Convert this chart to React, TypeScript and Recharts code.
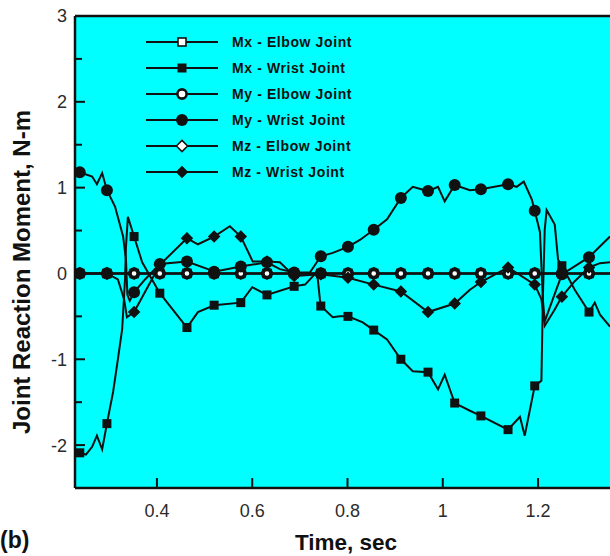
import React from "react";
import {
    CartesianGrid,
    Label,
    Legend,
    Line,
    LineChart,
    ReferenceLine,
    XAxis,
    YAxis,
} from "recharts";

// [time, value, marker?]
type Pt = [number, number, number];

const X_TICKS = [0.4, 0.6, 0.8, 1, 1.2];
const Y_TICKS = [-2.5, -2, -1.5, -1, -0.5, 0, 0.5, 1, 1.5, 2, 2.5, 3];

const SERIES_NAMES = [
    "Mx - Elbow Joint",
    "Mx - Wrist Joint",
    "My - Elbow Joint",
    "My - Wrist Joint",
    "Mz - Elbow Joint",
    "Mz - Wrist Joint",
];

// times where the elbow markers sit (the elbow moments stay on zero)
const MARKER_TIMES = [
    0.238, 0.295, 0.352, 0.406, 0.463, 0.52, 0.576, 0.631, 0.688, 0.744,
    0.801, 0.855, 0.912, 0.969, 1.025, 1.08, 1.137, 1.193, 1.25, 1.307,
];

const mxWrist: Pt[] = [
    [0.228, -2.09, 0], [0.238, -2.09, 1], [0.251, -2.11, 0], [0.264, -2.02, 0],
    [0.274, -1.89, 0], [0.285, -2.05, 0], [0.295, -1.75, 1], [0.308, -1.38, 0],
    [0.318, -1.0, 0], [0.327, -0.65, 0], [0.333, -0.07, 0], [0.335, 0.31, 0],
    [0.339, 0.66, 0], [0.352, 0.43, 1], [0.369, 0.13, 0], [0.406, -0.23, 1],
    [0.463, -0.63, 1], [0.486, -0.45, 0], [0.52, -0.37, 1], [0.576, -0.34, 1],
    [0.6, -0.16, 0], [0.631, -0.25, 1], [0.688, -0.15, 1], [0.711, -0.13, 0],
    [0.736, 0.02, 0], [0.742, -0.3, 0], [0.744, -0.38, 1], [0.769, -0.51, 0],
    [0.784, -0.5, 0], [0.801, -0.5, 1], [0.832, -0.57, 0], [0.855, -0.66, 1],
    [0.883, -0.77, 0], [0.912, -1.0, 1], [0.937, -1.14, 0], [0.969, -1.15, 1],
    [0.99, -1.35, 0], [1.004, -1.18, 0], [1.025, -1.51, 1], [1.057, -1.6, 0],
    [1.08, -1.66, 1], [1.137, -1.82, 1], [1.162, -1.67, 0], [1.172, -1.89, 0],
    [1.193, -1.31, 1], [1.207, -1.25, 0], [1.21, -0.3, 0], [1.214, 0.51, 0],
    [1.218, 0.74, 0], [1.235, 0.57, 0], [1.242, 0.16, 0], [1.25, 0.09, 1],
    [1.277, -0.19, 0], [1.307, -0.45, 1], [1.319, -0.34, 0], [1.33, -0.48, 0],
    [1.351, -0.62, 0],
];

const myWrist: Pt[] = [
    [0.228, 1.18, 0], [0.238, 1.18, 1], [0.264, 1.13, 0], [0.274, 1.04, 0],
    [0.285, 1.17, 0], [0.295, 0.97, 1], [0.312, 0.78, 0], [0.329, 0.43, 0],
    [0.335, 0.16, 0], [0.338, -0.25, 0], [0.343, -0.32, 0], [0.352, -0.22, 1],
    [0.375, -0.07, 0], [0.406, 0.11, 1], [0.463, 0.14, 1], [0.507, 0.05, 0],
    [0.52, 0.02, 1], [0.576, 0.08, 1], [0.631, 0.13, 1], [0.658, 0.05, 0],
    [0.688, 0.01, 1], [0.721, 0.01, 0], [0.744, 0.2, 1], [0.769, 0.24, 0],
    [0.801, 0.31, 1], [0.826, 0.39, 0], [0.855, 0.51, 1], [0.883, 0.63, 0],
    [0.912, 0.88, 1], [0.937, 1.01, 0], [0.969, 0.96, 1], [0.99, 1.01, 0],
    [1.004, 0.84, 0], [1.025, 1.03, 1], [1.057, 0.97, 0], [1.08, 0.98, 1],
    [1.137, 1.04, 1], [1.155, 1.01, 0], [1.17, 1.07, 0], [1.187, 0.86, 0],
    [1.193, 0.73, 1], [1.204, 0.48, 0], [1.21, -0.3, 0], [1.214, -0.56, 0],
    [1.225, -0.39, 0], [1.25, -0.01, 1], [1.307, 0.19, 1], [1.351, 0.43, 0],
];

const mzWrist: Pt[] = [
    [0.228, 0.0, 0], [0.238, 0.0, 1], [0.295, 0.0, 1], [0.318, -0.07, 0],
    [0.331, -0.3, 0], [0.337, -0.51, 0], [0.352, -0.45, 1], [0.406, 0.1, 1],
    [0.463, 0.41, 1], [0.486, 0.34, 0], [0.52, 0.43, 1], [0.553, 0.55, 0],
    [0.576, 0.43, 1], [0.601, 0.14, 0], [0.631, 0.14, 1], [0.658, 0.13, 0],
    [0.688, -0.03, 1], [0.744, -0.01, 1], [0.801, -0.05, 1], [0.855, -0.13, 1],
    [0.912, -0.21, 1], [0.969, -0.45, 1], [1.025, -0.35, 1], [1.057, -0.19, 0],
    [1.08, -0.1, 1], [1.137, 0.07, 1], [1.193, -0.13, 1], [1.207, -0.3, 0],
    [1.214, -0.61, 0], [1.235, -0.42, 0], [1.25, -0.27, 1], [1.277, -0.09, 0],
    [1.307, 0.07, 1], [1.33, 0.12, 0], [1.351, 0.13, 0],
];

const X_MIN = 0.228;
const X_MAX = 1.351;

const FONT = '"Liberation Sans", Arial, Helvetica, sans-serif';
const INK = "#111";
const BG = "#00FFFF";

const toRows = (pts: Pt[]) => pts.map(([t, v, m]) => ({ t, v, m }));

const elbowRows = [
    { t: X_MIN, v: 0, m: 0 },
    ...MARKER_TIMES.map((t) => ({ t, v: 0, m: 1 })),
    { t: X_MAX, v: 0, m: 0 },
];

type Shape = "square" | "circle" | "diamond";

function marker(shape: Shape, filled: boolean, cx: number, cy: number, inLegend = false) {
    const fill = filled ? INK : "#fff";
    if (shape === "square") {
        const h = filled ? 3.7 : 4;
        return (
            <rect
                x={cx - h}
                y={cy - h}
                width={h * 2}
                height={h * 2}
                fill={fill}
                stroke={INK}
                strokeWidth={1.6}
            />
        );
    }
    if (shape === "circle") {
        if (filled) return <circle cx={cx} cy={cy} r={6} fill={INK} />;
        return inLegend ? (
            <circle cx={cx} cy={cy} r={4.6} fill="#fff" stroke={INK} strokeWidth={2.6} />
        ) : (
            <circle cx={cx} cy={cy} r={4.2} fill="#fff" stroke={INK} strokeWidth={3.8} />
        );
    }
    const h = filled ? 5.2 : 5.6;
    return (
        <polygon
            points={`${cx},${cy - h} ${cx + h},${cy} ${cx},${cy + h} ${cx - h},${cy}`}
            fill={fill}
            stroke={INK}
            strokeWidth={1.5}
        />
    );
}

const SHAPES: { shape: Shape; filled: boolean }[] = [
    { shape: "square", filled: false },
    { shape: "square", filled: true },
    { shape: "circle", filled: false },
    { shape: "circle", filled: true },
    { shape: "diamond", filled: false },
    { shape: "diamond", filled: true },
];

const dotFor = (i: number) => (props: any) => {
    const { cx, cy, payload, index } = props;
    if (!payload || !payload.m || cx == null || cy == null) {
        return <g key={`d-${i}-${index}`} />;
    }
    return <g key={`d-${i}-${index}`}>{marker(SHAPES[i].shape, SHAPES[i].filled, cx, cy)}</g>;
};

function XTick(props: any) {
    const { x, y, payload } = props;
    return (
        <g>
            <line x1={x} y1={y} x2={x} y2={y - 10} stroke={INK} strokeWidth={2} />
            <text
                x={x}
                y={y + 29}
                textAnchor="middle"
                fontSize={18}
                fontFamily={FONT}
                fill="#2b2b2b"
            >
                {payload.value}
            </text>
        </g>
    );
}

function YTick(props: any) {
    const { x, y, payload } = props;
    const major = Number.isInteger(payload.value);
    return (
        <g>
            <line x1={x} y1={y} x2={x + (major ? 10 : 7)} y2={y} stroke={INK} strokeWidth={2} />
            {major && (
                <text
                    x={x - 8}
                    y={y}
                    dy="0.36em"
                    textAnchor="end"
                    fontSize={18}
                    fontFamily={FONT}
                    fill="#2b2b2b"
                >
                    {payload.value}
                </text>
            )}
        </g>
    );
}

function LegendBox() {
    return (
        <div
            style={{
                fontFamily: FONT,
                fontWeight: 700,
                fontSize: 14,
                letterSpacing: 0.6,
                color: INK,
            }}
        >
            {SERIES_NAMES.map((name, i) => (
                <div
                    key={name}
                    style={{ display: "flex", alignItems: "center", height: 26 }}
                >
                    <svg width={72} height={14} style={{ overflow: "visible" }}>
                        <line x1={0} y1={7} x2={72} y2={7} stroke={INK} strokeWidth={2} />
                        {marker(SHAPES[i].shape, SHAPES[i].filled, 36, 7, true)}
                    </svg>
                    <span style={{ marginLeft: 14, whiteSpace: "nowrap" }}>{name}</span>
                </div>
            ))}
        </div>
    );
}

export default function App() {
    const seriesData = [
        elbowRows,
        toRows(mxWrist),
        elbowRows,
        toRows(myWrist),
        elbowRows,
        toRows(mzWrist),
    ];
    // elbow first, wrist on top
    const order = [0, 4, 2, 1, 5, 3];

    return (
        <div style={{ position: "absolute", left: 0, top: 0 }}>
            <LineChart
                width={610}
                height={556}
                margin={{ top: 16, right: 0, left: 0, bottom: 0 }}
            >
                <CartesianGrid fill={BG} stroke="none" horizontal={false} vertical={false} />

                <XAxis
                    dataKey="t"
                    type="number"
                    domain={[X_MIN, X_MAX]}
                    allowDataOverflow
                    ticks={X_TICKS}
                    interval={0}
                    height={68}
                    tickSize={0}
                    tickMargin={0}
                    tickLine={false}
                    tick={<XTick />}
                    axisLine={{ stroke: INK, strokeWidth: 2.5 }}
                >
                    <Label
                        content={() => (
                            <g>
                                <text
                                    x={346}
                                    y={550}
                                    textAnchor="middle"
                                    fontSize={22.5}
                                    fontWeight={700}
                                    fontFamily={FONT}
                                    fill={INK}
                                >
                                    Time, sec
                                </text>
                                <text
                                    x={0}
                                    y={548}
                                    fontSize={23}
                                    fontWeight={700}
                                    fontFamily={FONT}
                                    fill={INK}
                                >
                                    (b)
                                </text>
                            </g>
                        )}
                    />
                </XAxis>

                <YAxis
                    type="number"
                    domain={[-2.5, 3]}
                    allowDataOverflow
                    ticks={Y_TICKS}
                    interval={0}
                    width={75}
                    tickSize={0}
                    tickMargin={0}
                    tickLine={false}
                    tick={<YTick />}
                    axisLine={{ stroke: INK, strokeWidth: 2.5 }}
                >
                    <Label
                        content={() => (
                            <text
                                x={21}
                                y={272}
                                transform="rotate(-90 21 272)"
                                textAnchor="middle"
                                dominantBaseline="central"
                                fontSize={24}
                                fontWeight={700}
                                fontFamily={FONT}
                                fill={INK}
                            >
                                Joint Reaction Moment, N-m
                            </text>
                        )}
                    />
                </YAxis>

                <ReferenceLine y={3} stroke={INK} strokeWidth={2.5} />

                {order.map((i) => (
                    <Line
                        key={SERIES_NAMES[i]}
                        data={seriesData[i]}
                        dataKey="v"
                        name={SERIES_NAMES[i]}
                        type="linear"
                        stroke={INK}
                        strokeWidth={2}
                        dot={dotFor(i)}
                        activeDot={false}
                        isAnimationActive={false}
                    />
                ))}

                <Legend
                    layout="vertical"
                    align="center"
                    verticalAlign="middle"
                    content={() => <LegendBox />}
                    wrapperStyle={{ top: 29, left: 146, width: 260 }}
                />
            </LineChart>
        </div>
    );
}
